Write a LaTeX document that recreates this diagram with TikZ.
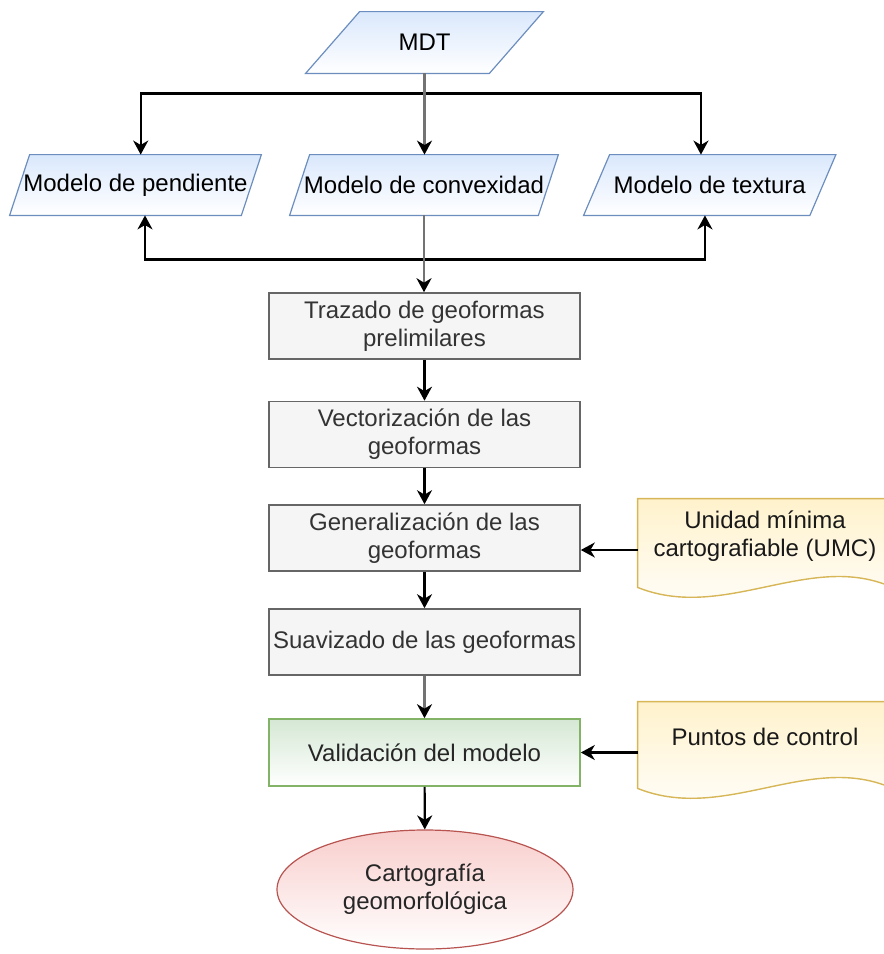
\documentclass[tikz,border=0pt]{standalone}
\usepackage{fontspec}
\setmainfont{Liberation Sans}
\usetikzlibrary{arrows.meta,shapes.geometric,calc,backgrounds}
\definecolor{blueF}{HTML}{DAE8FC}\definecolor{blueD}{HTML}{6C8EBF}
\definecolor{grayF}{HTML}{F5F5F5}\definecolor{grayD}{HTML}{666666}\definecolor{txt}{HTML}{333333}
\definecolor{greenF}{HTML}{D5E8D4}\definecolor{greenD}{HTML}{82B366}
\definecolor{redF}{HTML}{F8CECC}\definecolor{redD}{HTML}{B85450}
\definecolor{yelF}{HTML}{FFF2CC}\definecolor{yelD}{HTML}{D6B656}
\newcommand\paraShape[2]{\path[pshape] ([xshift=#2]#1.north west) -- ([xshift=#2]#1.north east) -- ([xshift=-#2]#1.south east) -- ([xshift=-#2]#1.south west) -- cycle;}
\newcommand\docShape[1]{\path[dshape] (#1.south west) -- (#1.north west) -- (#1.north east) -- (#1.south east) .. controls ($(#1.south east)+(-82,-37)$) and ($(#1.south west)+(87,35)$) .. (#1.south west) -- cycle;}
\begin{document}
\begin{tikzpicture}[x=0.5pt,y=-0.5pt,
  font=\fontsize{12pt}{14pt}\selectfont,
  tipc/.style={-{Stealth[length=7pt,width=7.5pt,inset=2.2pt,color=black]}},
  blk/.style={tipc, draw=black, line width=1.1pt},
  gry/.style={tipc, draw=black!55, line width=1.3pt},
  pnode/.style={rectangle, inner sep=0pt, minimum height=30pt, text=black},
  pshape/.style={top color=blueF, bottom color=white, draw=blueD, line width=0.6pt},
  box/.style={rectangle, draw=grayD, fill=grayF, text=txt, minimum width=155.5pt, minimum height=33pt, align=center, inner sep=0pt, line width=0.8pt},
  vbox/.style={box, draw=greenD, top color=greenF, bottom color=white, text=black!85},
  oval/.style={ellipse, draw=redD, top color=redF, bottom color=white, text=black!85, minimum width=148pt, minimum height=59.5pt, inner sep=0pt, align=center, line width=0.6pt},
  dnode/.style={rectangle, inner sep=0pt, minimum width=127pt},
  dtext/.style={inner sep=0pt, align=center, text=black!90},
  dshape/.style={top color=yelF, bottom color=white, draw=yelD, line width=0.7pt}
]
\useasboundingbox (0,0) rectangle (884,954);
\clip (0,0) rectangle (884,954);

% input parallelograms
\node[pnode, minimum width=91.5pt, minimum height=30.5pt] (mdt) at (424.5,42.5) {MDT};
\node[pnode, minimum width=115.5pt] (pend) at (135.5,185) {Modelo de pendiente};
\node[pnode, minimum width=124pt] (conv) at (424,185) {Modelo de convexidad};
\node[pnode, minimum width=112.75pt] (tex) at (709.75,185) {Modelo de textura};

% process boxes
\node[box] (t1) at (424.5,326) {Trazado de geoformas\\prelimilares};
\node[box] (t2) at (424.5,434.5) {Vectorización de las\\geoformas};
\node[box] (t3) at (424.5,538) {Generalización de las\\geoformas};
\node[box] (t4) at (424.5,642) {Suavizado de las geoformas};
\node[vbox, minimum height=33.5pt] (t5) at (424.5,752.5) {Validación del modelo};
\node[oval] (carto) at (425,889.5) {Cartografía\\geomorfológica};

% documents
\node[dnode, minimum height=44pt] (umc) at (765,543) {};
\node[dnode, minimum height=43pt] (pc) at (765,745) {};

\begin{scope}[on background layer]
  \paraShape{mdt}{13.5pt}
  \paraShape{pend}{5pt}
  \paraShape{conv}{5pt}
  \paraShape{tex}{6.5pt}
  \docShape{umc}
  \docShape{pc}
\end{scope}
\node[dtext] (umcTxt) at (765,536) {Unidad mínima\\cartografiable (UMC)};
\node[dtext] (pcTxt) at (765,737) {Puntos de control};

% connectors from MDT
\draw[blk] ($(mdt.south)+(0,20)$) -| ([xshift=2.6pt]pend.north);
\draw[blk] ($(mdt.south)+(0,20)$) -| ([xshift=-4.4pt]tex.north);
\draw[gry] (mdt.south) -- (mdt.south |- conv.north);

% connectors from convexidad
\draw[blk] ($(conv.south)+(0,44)$) -| ([xshift=4.75pt]pend.south);
\draw[blk] ($(conv.south)+(0,44)$) -| ([xshift=-2.4pt]tex.south);
\draw[gry] (conv.south) -- (conv.south |- t1.north);

% chain
\draw[blk] (t1) -- (t2);
\draw[blk] (t2) -- (t3);
\draw[blk] (t3) -- (t4);
\draw[gry] (t4) -- (t5);
\draw[blk] (t5) -- (carto);

% side inputs
\draw[blk] ([yshift=-3.5pt]umc.west) -- ([yshift=-3.5pt]umc.west -| t3.east);
\draw[blk] (pc.west |- t5.east) -- (t5.east);
\end{tikzpicture}
\end{document}
